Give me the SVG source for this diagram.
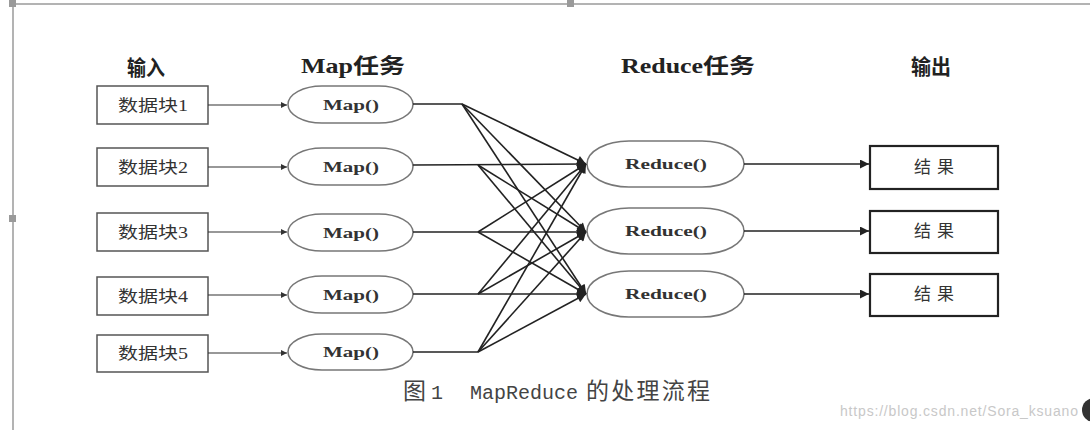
<svg xmlns="http://www.w3.org/2000/svg" width="1090" height="430" viewBox="0 0 1090 430">
<defs>
<style>
.frame{stroke:#9a9a9a;stroke-width:1.5;fill:none}
.knob{fill:#9a9a9a}
.inbox{fill:#fff;stroke:#555;stroke-width:1.5}
.outbox{fill:#fff;stroke:#222;stroke-width:2.2}
.oval{fill:#fff;stroke:#777;stroke-width:1.5}
.hdr{font-family:"Liberation Serif","Noto Sans CJK SC",serif;font-weight:bold;font-size:21px;fill:#222;text-anchor:middle}
.lbl{font-family:"Liberation Serif","Noto Sans CJK SC",serif;font-size:16px;fill:#333;text-anchor:middle}
.res{font-family:"Liberation Serif","Noto Sans CJK SC",serif;font-size:17px;fill:#333;text-anchor:middle;letter-spacing:6px}
.fn{font-family:"Liberation Serif",serif;font-weight:bold;font-size:15px;fill:#333;text-anchor:middle}
.cap{font-family:"Liberation Mono","Noto Sans CJK SC",monospace;font-size:20px;fill:#444}
.capc{font-family:"Noto Sans CJK SC",sans-serif;font-size:23px;fill:#444}
.wm{font-family:"Liberation Sans",sans-serif;font-size:14px;fill:#c8c8c8}
.thin{stroke:#333;stroke-width:1.2;fill:none}
.ln{stroke:#222;stroke-width:1.6;fill:none}
</style>
<marker id="sm" viewBox="0 0 10 10" refX="10" refY="5" markerWidth="8" markerHeight="6" markerUnits="userSpaceOnUse" orient="auto"><path d="M0,0 L10,5 L0,10 z" fill="#333"/></marker>
<marker id="big" viewBox="0 0 10 10" refX="10" refY="5" markerWidth="13" markerHeight="9" markerUnits="userSpaceOnUse" orient="auto"><path d="M0,0 L10,5 L0,10 z" fill="#222"/></marker>
</defs>
<rect width="1090" height="430" fill="#fff"/>
<g id="frame">
<path class="frame" d="M13,430 L13,4 L1090,4"/>
<rect class="knob" x="9" y="0" width="7" height="7"/>
<rect class="knob" x="567" y="0" width="7" height="7"/>
<rect class="knob" x="9" y="215" width="7" height="7"/>
</g>
<g id="headers">
<text class="hdr" x="146" y="75" textLength="38" lengthAdjust="spacingAndGlyphs">输入</text>
<text class="hdr" x="353" y="73" textLength="104" lengthAdjust="spacingAndGlyphs">Map任务</text>
<text class="hdr" x="688" y="73" textLength="134" lengthAdjust="spacingAndGlyphs">Reduce任务</text>
<text class="hdr" x="931" y="74" textLength="40" lengthAdjust="spacingAndGlyphs">输出</text>
</g>
<g id="in1"><rect class="inbox" x="97" y="86" width="111" height="38"/><text class="lbl" x="153" y="111" textLength="70" lengthAdjust="spacingAndGlyphs">数据块1</text></g>
<g id="in2"><rect class="inbox" x="97" y="148" width="111" height="38"/><text class="lbl" x="153" y="173" textLength="70" lengthAdjust="spacingAndGlyphs">数据块2</text></g>
<g id="in3"><rect class="inbox" x="97" y="213" width="111" height="38"/><text class="lbl" x="153" y="238" textLength="70" lengthAdjust="spacingAndGlyphs">数据块3</text></g>
<g id="in4"><rect class="inbox" x="97" y="277" width="111" height="38"/><text class="lbl" x="153" y="302" textLength="70" lengthAdjust="spacingAndGlyphs">数据块4</text></g>
<g id="in5"><rect class="inbox" x="97" y="335" width="111" height="37"/><text class="lbl" x="153" y="359" textLength="70" lengthAdjust="spacingAndGlyphs">数据块5</text></g>
<g id="map1"><rect class="oval" x="288" y="86" width="125" height="37" rx="34" ry="18.5"/><text class="fn" x="351" y="110" textLength="56" lengthAdjust="spacingAndGlyphs">Map()</text></g>
<g id="map2"><rect class="oval" x="288" y="148" width="125" height="37" rx="34" ry="18.5"/><text class="fn" x="351" y="172" textLength="56" lengthAdjust="spacingAndGlyphs">Map()</text></g>
<g id="map3"><rect class="oval" x="288" y="214" width="125" height="37" rx="34" ry="18.5"/><text class="fn" x="351" y="238" textLength="56" lengthAdjust="spacingAndGlyphs">Map()</text></g>
<g id="map4"><rect class="oval" x="288" y="276" width="125" height="37" rx="34" ry="18.5"/><text class="fn" x="351" y="300" textLength="56" lengthAdjust="spacingAndGlyphs">Map()</text></g>
<g id="map5"><rect class="oval" x="288" y="334" width="125" height="36" rx="34" ry="18"/><text class="fn" x="351" y="357" textLength="56" lengthAdjust="spacingAndGlyphs">Map()</text></g>
<g id="red1"><rect class="oval" x="587" y="141" width="157" height="46" rx="42" ry="23"/><text class="fn" x="666" y="169" textLength="82" lengthAdjust="spacingAndGlyphs">Reduce()</text></g>
<g id="red2"><rect class="oval" x="587" y="208" width="157" height="46" rx="42" ry="23"/><text class="fn" x="666" y="236" textLength="82" lengthAdjust="spacingAndGlyphs">Reduce()</text></g>
<g id="red3"><rect class="oval" x="587" y="271" width="157" height="46" rx="42" ry="23"/><text class="fn" x="666" y="299" textLength="82" lengthAdjust="spacingAndGlyphs">Reduce()</text></g>
<g id="out1"><rect class="outbox" x="870" y="146" width="128" height="43"/><text class="res" x="937" y="173">结果</text></g>
<g id="out2"><rect class="outbox" x="870" y="211" width="128" height="42"/><text class="res" x="937" y="237">结果</text></g>
<g id="out3"><rect class="outbox" x="870" y="274" width="128" height="42"/><text class="res" x="937" y="300">结果</text></g>
<g id="connectors">
<line class="thin" x1="208" y1="105" x2="287" y2="105" marker-end="url(#sm)"/>
<line class="thin" x1="208" y1="167" x2="287" y2="167" marker-end="url(#sm)"/>
<line class="thin" x1="208" y1="232" x2="287" y2="232" marker-end="url(#sm)"/>
<line class="thin" x1="208" y1="295" x2="287" y2="295" marker-end="url(#sm)"/>
<line class="thin" x1="208" y1="353" x2="287" y2="353" marker-end="url(#sm)"/>
<path class="ln" d="M413,104 L462,104"/>
<line class="ln" x1="462" y1="104" x2="586" y2="164" marker-end="url(#big)"/>
<line class="ln" x1="462" y1="104" x2="586" y2="232" marker-end="url(#big)"/>
<line class="ln" x1="462" y1="104" x2="586" y2="294" marker-end="url(#big)"/>
<line class="ln" x1="413" y1="165" x2="586" y2="164" marker-end="url(#big)"/>
<line class="ln" x1="478" y1="165" x2="586" y2="232" marker-end="url(#big)"/>
<line class="ln" x1="478" y1="165" x2="586" y2="294" marker-end="url(#big)"/>
<line class="ln" x1="413" y1="232" x2="586" y2="232" marker-end="url(#big)"/>
<line class="ln" x1="478" y1="232" x2="586" y2="164" marker-end="url(#big)"/>
<line class="ln" x1="478" y1="232" x2="586" y2="294" marker-end="url(#big)"/>
<line class="ln" x1="413" y1="294" x2="586" y2="294" marker-end="url(#big)"/>
<line class="ln" x1="478" y1="294" x2="586" y2="164" marker-end="url(#big)"/>
<line class="ln" x1="478" y1="294" x2="586" y2="232" marker-end="url(#big)"/>
<path class="ln" d="M413,352 L478,352"/>
<line class="ln" x1="478" y1="352" x2="586" y2="164" marker-end="url(#big)"/>
<line class="ln" x1="478" y1="352" x2="586" y2="232" marker-end="url(#big)"/>
<line class="ln" x1="478" y1="352" x2="586" y2="294" marker-end="url(#big)"/>
<line class="ln" x1="744" y1="164" x2="869" y2="164" marker-end="url(#big)"/>
<line class="ln" x1="744" y1="231" x2="869" y2="231" marker-end="url(#big)"/>
<line class="ln" x1="744" y1="294" x2="869" y2="294" marker-end="url(#big)"/>
</g>
<g id="caption">
<text y="399"><tspan class="capc" x="403">图</tspan><tspan class="cap" x="431">1</tspan><tspan class="cap" x="470">MapReduce</tspan><tspan class="capc" x="586" textLength="124">的处理流程</tspan></text>
<text class="wm" x="840" y="416" textLength="238">https://blog.csdn.net/Sora_ksuano</text>
<circle cx="1094" cy="410" r="12" fill="#333"/>
</g>
</svg>
